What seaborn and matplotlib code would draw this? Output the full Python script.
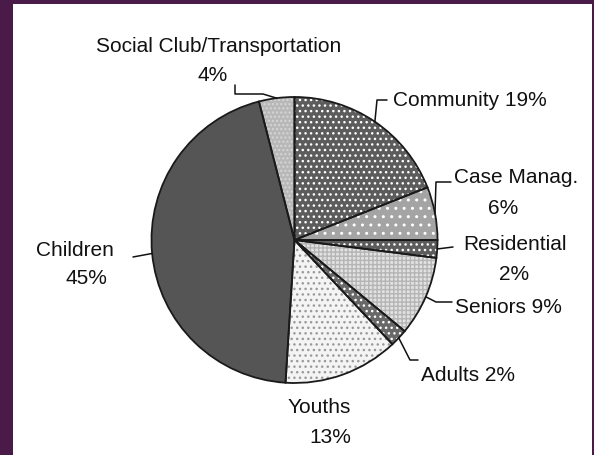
import numpy as np
import matplotlib
matplotlib.use('Agg')
import matplotlib.pyplot as plt
import seaborn as sns
from matplotlib.patches import Rectangle
from matplotlib.lines import Line2D

# ---- data ----
categories = ['Community', 'Case Manag.', 'Residential', 'Seniors', 'Adults',
              'Youths', 'Children', 'Social Club/Transportation']
values = [19, 6, 2, 9, 2, 13, 45, 4]
pct_labels = ['19%', '6%', '2%', '9%', '2%', '13%', '45%', '4%']

# ---- style ----
sns.set_theme(style='white')
plt.rcParams['font.family'] = ['Liberation Sans', 'DejaVu Sans']
plt.rcParams['hatch.linewidth'] = 1.0

face = sns.color_palette(['#5c5c5c', '#a4a4a4', '#5c5c5c', '#e2e2e2', '#686868',
                          '#f4f4f4', '#555555', '#b8b8b8'])
hatches = ['...', '..', '...', '++++', '...', '...', '', '....']
hatch_cols = ['white', 'white', 'white', '#b5b5b5', 'white', '#9a9a9a', '#555555', '#d6d6d6']

W, H = 594, 455
fig = plt.figure(figsize=(W / 100, H / 100), dpi=100)
fig.patch.set_facecolor('#4a1a48')
fig.add_artist(Rectangle((13 / W, 0), (592 - 13) / W, (H - 4) / H,
                         transform=fig.transFigure, facecolor='white',
                         edgecolor='none', zorder=0))

cx, cy, r = 294.5, 240.0, 143.0
ax = fig.add_axes([(cx - r) / W, (H - cy - r) / H, 2 * r / W, 2 * r / H])
ax.set_facecolor('none')

wedges, _ = ax.pie(values, startangle=90, counterclock=False, colors=face,
                   wedgeprops=dict(linewidth=0))
for w, h, hc in zip(wedges, hatches, hatch_cols):
    if h:
        w.set_hatch(h)
    w.set_edgecolor(hc)
    w.set_linewidth(0)

ax.pie(values, startangle=90, counterclock=False,
       wedgeprops=dict(fill=False, edgecolor='#1a1a1a', linewidth=1.3))
ax.set_xlim(-1, 1)
ax.set_ylim(-1, 1)
ax.axis('off')


def fx(x):
    return x / W


def fy(y):
    return 1 - y / H


def edge_point(w):
    th = np.deg2rad((w.theta1 + w.theta2) / 2)
    return cx + r * np.cos(th), cy - r * np.sin(th)


# leader line knots (pixels) after the wedge edge point
leaders = {
    0: [(377, 100), (387, 100)],
    1: [(436, 182), (451, 182)],
    2: [(453, 247)],
    3: [(436, 302), (452, 302)],
    4: [(410, 360), (418, 360)],
    6: [(133, 257)],
    7: [(263, 94), (235, 94), (235, 85)],
}
for i, pts in leaders.items():
    sx, sy = edge_point(wedges[i])
    xs = [sx] + [p[0] for p in pts]
    ys = [sy] + [p[1] for p in pts]
    fig.add_artist(Line2D([fx(v) for v in xs], [fy(v) for v in ys],
                          transform=fig.transFigure, color='#111111', lw=1.1))

fs = 15
# label layout: list of (text, x, baseline y, ha)
label_layout = {
    0: [(f'{categories[0]} {pct_labels[0]}', 393, 106, 'left')],
    1: [(categories[1], 516, 183, 'center'), (pct_labels[1], 503, 214, 'center')],
    2: [(categories[2], 515, 250, 'center'), (pct_labels[2], 514, 280, 'center')],
    3: [(f'{categories[3]} {pct_labels[3]}', 455, 313, 'left')],
    4: [(f'{categories[4]} {pct_labels[4]}', 421, 381, 'left')],
    5: [(categories[5], 319, 413, 'center'), (pct_labels[5], 330, 443, 'center')],
    6: [(categories[6], 75, 256, 'center'), (pct_labels[6], 86, 284, 'center')],
    7: [(categories[7], 219, 52, 'center'), (pct_labels[7], 213, 81, 'center')],
}
for i, items in label_layout.items():
    for txt, x, y, ha in items:
        fig.text(fx(x), fy(y), txt, ha=ha, va='baseline', fontsize=fs,
                 color='#111111')

fig.savefig('out.png', dpi=100, facecolor=fig.get_facecolor())
